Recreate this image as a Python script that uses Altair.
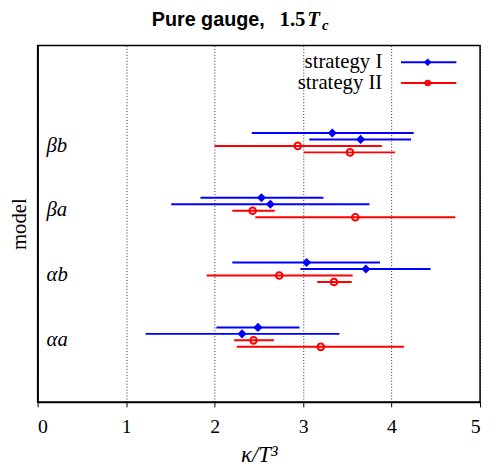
import altair as alt
import pandas as pd

# ---- data ----
models = ["βb", "βb", "βb", "βb", "βa", "βa", "βa", "βa",
          "αb", "αb", "αb", "αb", "αa", "αa", "αa", "αa"]
strategies = ["strategy I", "strategy I", "strategy II", "strategy II"] * 4
center = [3.33, 3.65, 2.94, 3.53, 2.53, 2.63, 2.43, 3.59,
          3.04, 3.71, 2.73, 3.35, 2.49, 2.31, 2.44, 3.20]
low = [2.42, 3.07, 2.00, 3.01, 1.84, 1.51, 2.20, 2.46,
       2.20, 2.97, 1.91, 3.16, 2.02, 1.22, 2.22, 2.25]
high = [4.25, 4.22, 3.89, 4.04, 3.23, 3.75, 2.68, 4.72,
        3.87, 4.44, 3.56, 3.55, 2.96, 3.41, 2.67, 4.14]
model_order = ["αa", "αb", "βa", "βb"]
x_ticks = [0, 1, 2, 3, 4, 5]
legend_labels = ["strategy I", "strategy II"]
colors = ["#0000ff", "#ff0000"]

df = pd.DataFrame({"model": models, "strategy": strategies,
                   "center": center, "low": low, "high": high})
df["group"] = df["model"].map({m: i + 1 for i, m in enumerate(model_order)})
df["row"] = df.groupby("model").cumcount()
df["ypos"] = df["group"] + 0.15 - 0.1 * df["row"]

labels_df = pd.DataFrame({"model": model_order,
                          "group": [i + 1 for i in range(len(model_order))]})

SERIF = "Liberation Serif"

xscale = alt.Scale(domain=[0, 5], nice=False, zero=False)
yscale = alt.Scale(domain=[0, 5.5], nice=False, zero=False)
cscale = alt.Scale(domain=legend_labels, range=colors)

xenc = alt.X("low:Q", scale=xscale, title="κ/T³",
             axis=alt.Axis(values=x_ticks, format="d", grid=True,
                           gridDash=[1, 2], gridColor="#000", gridOpacity=0.85,
                           gridWidth=1, tickSize=5, tickColor="#000",
                           domainColor="#000", domainWidth=1.5,
                           labelFont=SERIF, labelFontSize=20, labelColor="#000",
                           labelPadding=10, titleFont=SERIF, titleFontSize=23,
                           titleFontStyle="italic", titleFontWeight="normal",
                           titleColor="#000", titlePadding=7))
yenc = alt.Y("ypos:Q", scale=yscale, title="model",
             axis=alt.Axis(labels=False, ticks=False, grid=False,
                           domainColor="#000", domainWidth=1.5,
                           titleFont=SERIF, titleFontSize=21,
                           titleFontWeight="normal", titleColor="#000",
                           titlePadding=8))
col = alt.Color("strategy:N", scale=cscale, legend=None)

base = alt.Chart(df)
bars = base.mark_rule(strokeWidth=2).encode(x=xenc, x2="high:Q", y=yenc, color=col)
diam = base.transform_filter(alt.datum.strategy == "strategy I").mark_point(
    shape="diamond", filled=True, size=85, opacity=1).encode(
    x=alt.X("center:Q", scale=xscale), y=alt.Y("ypos:Q", scale=yscale), color=col)
circ = base.transform_filter(alt.datum.strategy == "strategy II").mark_point(
    shape="circle", filled=False, size=45, strokeWidth=2, opacity=1).encode(
    x=alt.X("center:Q", scale=xscale), y=alt.Y("ypos:Q", scale=yscale), color=col)

grp = alt.Chart(labels_df).mark_text(
    font=SERIF, fontSize=21, fontStyle="italic", align="left",
    baseline="middle", dy=3, color="#000").encode(
    x=alt.value(9), y=alt.Y("group:Q", scale=yscale), text="model:N")

# ---- manual legend (pixel-placed guide) ----
leg_df = pd.DataFrame({"strategy": legend_labels})
leg_layers = []
for i, (lab, yv) in enumerate(zip(legend_labels, [17, 38])):
    d = alt.Chart(leg_df).transform_filter(alt.datum.strategy == lab)
    leg_layers.append(d.mark_rule(strokeWidth=2).encode(
        x=alt.value(368), x2=alt.value(424), y=alt.value(yv), color=col))
    if i == 0:
        leg_layers.append(d.mark_point(shape="diamond", filled=True, size=60,
                                       opacity=1).encode(
            x=alt.value(395), y=alt.value(yv), color=col))
    else:
        leg_layers.append(d.mark_point(shape="circle", filled=False, size=22,
                                       strokeWidth=2, opacity=1).encode(
            x=alt.value(395), y=alt.value(yv), color=col))
    leg_layers.append(d.mark_text(font=SERIF, fontSize=21, align="right",
                                  baseline="middle", color="#000").encode(
        x=alt.value(349), y=alt.value(yv), text="strategy:N"))

# ---- title ----
t_df = pd.DataFrame({"a": ["Pure gauge,"], "b": ["1.5"], "c": ["T"], "d": ["c"]})
t1 = alt.Chart(t_df).mark_text(font="Liberation Sans", fontSize=20, fontWeight="bold",
                               align="right", baseline="alphabetic", color="#000").encode(
    x=alt.value(230), y=alt.value(-20), text="a:N")
t2 = alt.Chart(t_df).mark_text(font=SERIF, fontSize=21, fontWeight="bold",
                               align="left", baseline="alphabetic", color="#000").encode(
    x=alt.value(245), y=alt.value(-20), text="b:N")
t3 = alt.Chart(t_df).mark_text(font=SERIF, fontSize=21, fontWeight="bold", fontStyle="italic",
                               align="left", baseline="alphabetic", color="#000").encode(
    x=alt.value(273), y=alt.value(-20), text="c:N")
t4 = alt.Chart(t_df).mark_text(font=SERIF, fontSize=15, fontWeight="bold", fontStyle="italic",
                               align="left", baseline="alphabetic", color="#000").encode(
    x=alt.value(288), y=alt.value(-16), text="d:N")

chart = alt.layer(bars, diam, circ, grp, *leg_layers,
                  t1, t2, t3, t4).properties(
    width=448, height=361,
    background="white",
    autosize=alt.AutoSizeParams(type="none"),
    padding={"left": 30, "top": 35, "right": 4, "bottom": 64},
).configure_view(stroke="#000", strokeWidth=1.5)

chart.save("out.html", embed_options={"renderer": "svg", "actions": False})
